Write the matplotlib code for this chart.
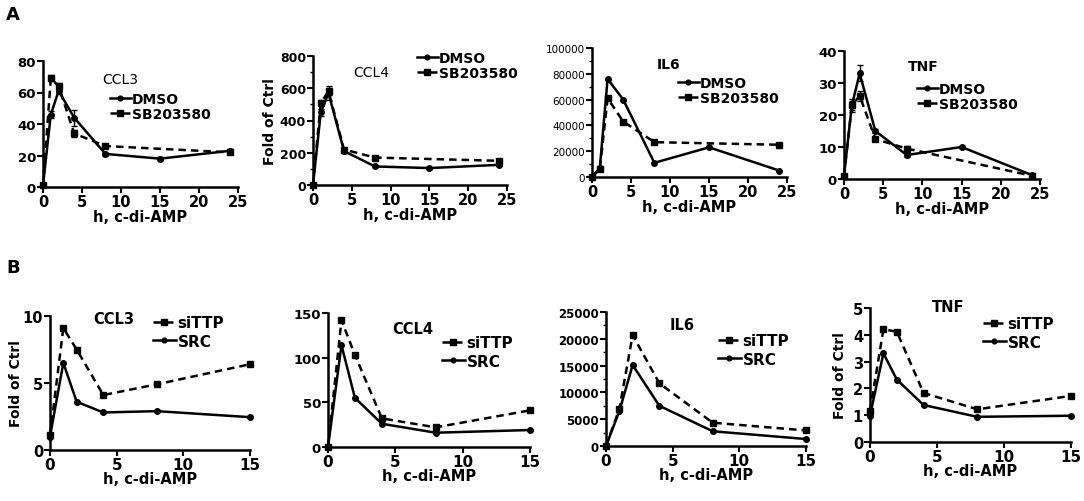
import matplotlib
matplotlib.use("Agg")
import matplotlib.pyplot as plt
from matplotlib.ticker import AutoMinorLocator

plt.rcParams['font.family'] = ['DejaVu Sans']
plt.rcParams['font.weight'] = 'bold'

W, H = 1084, 502

# --- data, row A (p38 inhibitor) ---
t_dmso = [0, 1, 2, 4, 8, 15, 24]
t_sb = [0, 1, 2, 4, 8, 24]

ccl3_dmso = [1, 46, 61, 44, 21, 18, 23]
ccl3_sb = [1, 69, 64, 34, 26, 22]
ccl3_dmso_err = [0, 2, 2, 5, 1, 1, 1]
ccl3_sb_err = [0, 2, 2, 2, 1, 1]

ccl4_dmso = [0, 450, 570, 210, 115, 105, 125]
ccl4_sb = [0, 510, 580, 220, 170, 150]
ccl4_dmso_err = [0, 20, 45, 10, 5, 5, 10]
ccl4_sb_err = [0, 15, 20, 10, 8, 10]

il6_dmso = [0, 7000, 76000, 60000, 11000, 23000, 5000]
il6_sb = [0, 6000, 61000, 43000, 27000, 25000]

tnf_dmso = [1, 23, 33, 15, 7.5, 10, 1.2]
tnf_sb = [1, 23, 26, 12.5, 9.5, 1]
tnf_dmso_err = [0, 1.5, 2.5, 0.5, 0.5, 0.3, 0.2]
tnf_sb_err = [0, 2, 1.5, 0.5, 0.8, 0.2]

# --- data, row B (TTP knockdown) ---
t_b = [0, 1, 2, 4, 8, 15]

b_ccl3_sittp = [1.1, 9.1, 7.5, 4.1, 4.9, 6.4]
b_ccl3_src = [1.0, 6.5, 3.6, 2.8, 2.9, 2.45]

b_ccl4_sittp = [0, 142, 103, 32, 22, 41]
b_ccl4_src = [0, 114, 55, 26, 16, 19]

b_il6_sittp = [0, 6900, 20700, 11700, 4350, 2900]
b_il6_src = [0, 6500, 15100, 7500, 2750, 1300]

b_tnf_sittp = [1.16, 4.2, 4.12, 1.83, 1.22, 1.72]
b_tnf_src = [0.98, 3.31, 2.33, 1.38, 0.94, 0.98]


def axes_px(fig, x0, y0, x1, y1):
    return fig.add_axes([x0 / W, 1 - y1 / H, (x1 - x0) / W, (y1 - y0) / H])


def style(ax, xmax, xstep, ymax, ystep, yfs=9.5, xfs=10.5, minor=False,
          lpad=0):
    for s in ['top', 'right']:
        ax.spines[s].set_visible(False)
    for s in ['left', 'bottom']:
        ax.spines[s].set_linewidth(1.8)
    ax.set_xlim(0, xmax)
    ax.set_ylim(0, ymax)
    ax.set_xticks(range(0, xmax + 1, xstep))
    ax.set_yticks([ystep * i for i in range(int(round(ymax / ystep)) + 1)])
    ax.tick_params(width=1.5, length=4, pad=1)
    ax.tick_params(axis='y', labelsize=yfs)
    ax.tick_params(axis='x', labelsize=xfs)
    if minor:
        ax.yaxis.set_minor_locator(AutoMinorLocator(2))
        ax.tick_params(which='minor', width=1, length=2)
    ax.set_xlabel('h, c-di-AMP', fontsize=10.5, fontweight='bold', labelpad=lpad)


def draw(ax, x_solid, y_solid, lab_solid, x_dash, y_dash, lab_dash,
         e_solid=None, e_dash=None, dash_first=False):
    l1 = ax.errorbar(x_solid, y_solid, yerr=e_solid, color='black', lw=1.8,
                     marker='o', ms=4, capsize=2, elinewidth=1,
                     label=lab_solid, clip_on=False)
    l2 = ax.errorbar(x_dash, y_dash, yerr=e_dash, color='black', lw=1.8,
                     ls=(0, (3, 2)), marker='s', ms=5, capsize=2,
                     elinewidth=1, label=lab_dash, clip_on=False)
    if dash_first:
        return [l2[0], l1[0]], [lab_dash, lab_solid]
    return [l1[0], l2[0]], [lab_solid, lab_dash]


def put_legend(fig, ax, handles, labels, x, y, size=10, spacing=0.05):
    ax.legend(handles, labels, loc='upper left', frameon=False,
              bbox_to_anchor=(x / W, 1 - y / H), bbox_transform=fig.transFigure,
              borderpad=0, borderaxespad=0, handlelength=1.5, handletextpad=0.1,
              labelspacing=spacing, markerscale=0.85,
              prop={'weight': 'bold', 'size': size})


def put_text(fig, s, x, y, size=10, weight='normal'):
    fig.text(x / W, 1 - y / H, s, fontsize=size, fontweight=weight,
             ha='left', va='center')


fig = plt.figure(figsize=(W / 100, H / 100), dpi=100)

# ---------------- row A ----------------
ax = axes_px(fig, 43, 62, 238, 188)
h, l = draw(ax, t_dmso, ccl3_dmso, 'DMSO', t_sb, ccl3_sb, 'SB203580',
            ccl3_dmso_err, ccl3_sb_err)
style(ax, 25, 5, 80, 20)
put_legend(fig, ax, h, l, 110, 93)
put_text(fig, 'CCL3', 102, 80)

ax = axes_px(fig, 313, 57, 507, 186)
h, l = draw(ax, t_dmso, ccl4_dmso, 'DMSO', t_sb, ccl4_sb, 'SB203580',
            ccl4_dmso_err, ccl4_sb_err)
style(ax, 25, 5, 800, 200, yfs=9, minor=True)
ax.set_ylabel('Fold of Ctrl', fontsize=10, fontweight='bold', labelpad=2)
put_legend(fig, ax, h, l, 417, 52)
put_text(fig, 'CCL4', 353, 73)

ax = axes_px(fig, 592, 49, 787, 178)
h, l = draw(ax, t_dmso, il6_dmso, 'DMSO', t_sb, il6_sb, 'SB203580')
style(ax, 25, 5, 100000, 20000, yfs=7.5, minor=True)
for lab in ax.get_yticklabels():
    lab.set_fontweight('normal')
put_legend(fig, ax, h, l, 678, 77)
put_text(fig, 'IL6', 657, 65, weight='bold')

ax = axes_px(fig, 844, 52, 1040, 180)
h, l = draw(ax, t_dmso, tnf_dmso, 'DMSO', t_sb, tnf_sb, 'SB203580',
            tnf_dmso_err, tnf_sb_err)
style(ax, 25, 5, 40, 10)
put_legend(fig, ax, h, l, 917, 83)
put_text(fig, 'TNF', 908, 67, weight='bold')

# ---------------- row B ----------------
ax = axes_px(fig, 50, 317, 250, 451)
h, l = draw(ax, t_b, b_ccl3_src, 'SRC', t_b, b_ccl3_sittp, 'siTTP',
            dash_first=True)
style(ax, 15, 5, 10, 5, yfs=10.5, xfs=11, lpad=-1)
ax.set_ylabel('Fold of Ctrl', fontsize=10, fontweight='bold', labelpad=0)
put_legend(fig, ax, h, l, 153, 316, size=11, spacing=0.25)
put_text(fig, 'CCL3', 93, 320, size=10.5, weight='bold')

ax = axes_px(fig, 328, 314, 530, 448)
h, l = draw(ax, t_b, b_ccl4_src, 'SRC', t_b, b_ccl4_sittp, 'siTTP',
            dash_first=True)
style(ax, 15, 5, 150, 50, yfs=9.5, xfs=11, lpad=-1)
put_legend(fig, ax, h, l, 442, 336, size=11, spacing=0.25)
put_text(fig, 'CCL4', 392, 330, size=10.5, weight='bold')

ax = axes_px(fig, 606, 313, 806, 447)
h, l = draw(ax, t_b, b_il6_src, 'SRC', t_b, b_il6_sittp, 'siTTP',
            dash_first=True)
style(ax, 15, 5, 25000, 5000, yfs=8.5, xfs=11, minor=True, lpad=-1)
put_legend(fig, ax, h, l, 718, 334, size=11, spacing=0.25)
put_text(fig, 'IL6', 670, 326, size=10.5, weight='bold')

ax = axes_px(fig, 870, 309, 1071, 443)
h, l = draw(ax, t_b, b_tnf_src, 'SRC', t_b, b_tnf_sittp, 'siTTP',
            dash_first=True)
style(ax, 15, 5, 5, 1, yfs=10.5, xfs=11, lpad=-1)
ax.set_ylabel('Fold of Ctrl', fontsize=10, fontweight='bold', labelpad=4)
put_legend(fig, ax, h, l, 983, 317, size=11, spacing=0.25)
put_text(fig, 'TNF', 932, 307, size=10.5, weight='bold')

put_text(fig, 'A', 6, 15, size=13, weight='bold')
put_text(fig, 'B', 6, 268, size=13, weight='bold')

fig.savefig('out.png', dpi=100)
